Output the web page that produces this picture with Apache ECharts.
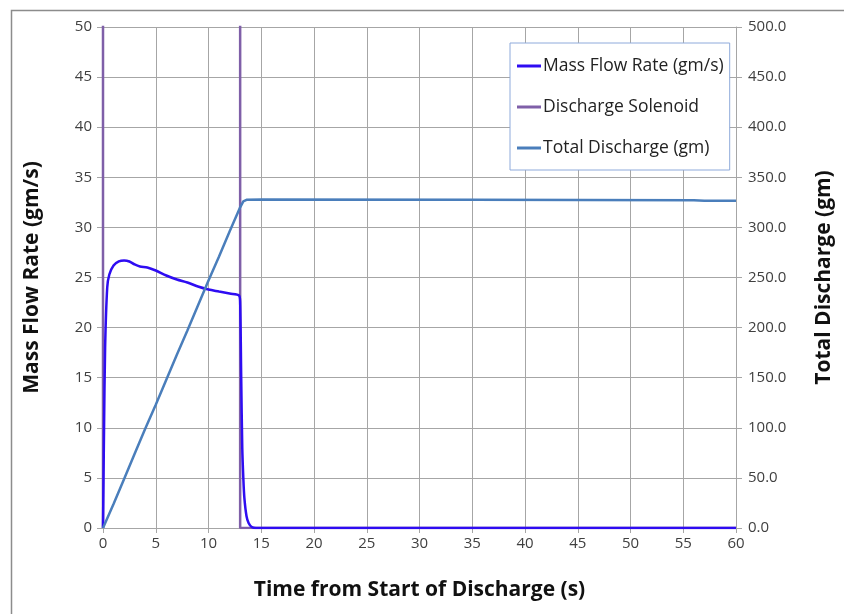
<!DOCTYPE html>
<html>
<head>
    <meta charset="utf-8">
    <title>Discharge</title>
    <script src="https://cdn.jsdelivr.net/npm/echarts@6/dist/echarts.min.js"></script>
    <style>
        body{ margin: 0; background: #fff; }
        #chart{ width: 844px; height: 614px; }
    </style>
</head>
<body>
<div id="chart"></div>
<script>
    // mass flow rate (gm/s)
    var flowTime = [0, 0.05, 0.1, 0.2, 0.4, 0.6, 1, 1.5, 2, 2.5, 3, 3.5, 4.2, 5, 6, 7, 8, 9, 10, 11, 12, 12.9, 13.0, 13.1, 13.2, 13.3, 13.4, 13.6, 13.8, 14.1, 14.5, 60];
    var flowRate = [0, 5, 10, 18, 24, 25.3, 26.2, 26.6, 26.7, 26.6, 26.3, 26.1, 26.0, 25.7, 25.2, 24.8, 24.5, 24.1, 23.8, 23.6, 23.4, 23.2, 22.5, 15, 8, 5, 3, 1.2, 0.5, 0.1, 0, 0];

    // discharge solenoid state (runs off the top of the axis)
    var solenoidTime = [0, 0, 13, 13, 60];
    var solenoidValue = [0, 60, 60, 0, 0];

    // total discharge (gm), right axis
    var totalTime = [0, 1, 2, 3, 4, 5, 6, 7, 8, 9, 10, 11, 12, 13, 13.3, 13.6, 15, 35, 56, 57, 60];
    var totalValue = [0, 24, 49, 74, 99, 123, 148, 173, 197, 222, 247, 271, 296, 320, 326, 327.5, 327.8, 327.5, 327, 326.5, 326.5];

    function zip(xs, ys){
        var out = [];
        for(var i=0;i<xs.length;i++){
            out.push([xs[i], ys[i]]);
        }
        return out;
    }

    var font = 'Open Sans';
    var gridColor = '#a6a6a6';
    var labelColor = '#404040';

    var option = {
        animation: false,
        textStyle: { fontFamily: font },
        grid: { left: 103, right: 108, top: 27, bottom: 86 },
        legend: {
            orient: 'vertical',
            left: 510,
            top: 43,
            itemWidth: 24,
            itemHeight: 3,
            itemGap: 17,
            padding: [11, 6, 10, 7],
            backgroundColor: '#fff',
            borderColor: '#8eaadb',
            borderWidth: 1,
            textStyle: { fontSize: 17.5, lineHeight: 24, color: '#222', fontFamily: font, padding: [0, 0, 0, -3] },
            data: [
                { name: 'Mass Flow Rate (gm/s)', icon: 'rect' },
                { name: 'Discharge Solenoid', icon: 'rect' },
                { name: 'Total Discharge (gm)', icon: 'rect' }
            ]
        },
        xAxis: {
            type: 'value',
            min: 0, max: 60, interval: 5,
            name: 'Time from Start of Discharge (s)',
            nameLocation: 'middle',
            nameGap: 52,
            nameTextStyle: { fontSize: 21, fontWeight: 'bold', color: '#111', fontFamily: font },
            axisLine: { show: true, lineStyle: { color: gridColor } },
            axisTick: { show: true, length: 5, lineStyle: { color: gridColor } },
            axisLabel: { fontSize: 15, color: labelColor, margin: 8 },
            splitLine: { show: true, lineStyle: { color: gridColor, width: 1 } }
        },
        yAxis: [{
            type: 'value',
            min: 0, max: 50, interval: 5,
            name: 'Mass Flow Rate (gm/s)',
            nameLocation: 'middle',
            nameGap: 60,
            nameTextStyle: { fontSize: 21, fontWeight: 'bold', color: '#111', fontFamily: font },
            axisLine: { show: true, lineStyle: { color: gridColor } },
            axisTick: { show: true, length: 6, lineStyle: { color: gridColor } },
            axisLabel: { fontSize: 15, color: labelColor, margin: 11 },
            splitLine: { show: true, lineStyle: { color: gridColor, width: 1 } }
        }, {
            type: 'value',
            min: 0, max: 500, interval: 50,
            position: 'right',
            name: 'Total Discharge (gm)',
            nameLocation: 'middle',
            nameGap: 78,
            nameRotate: 90,
            nameTextStyle: { fontSize: 21, fontWeight: 'bold', color: '#111', fontFamily: font },
            axisLine: { show: true, lineStyle: { color: gridColor } },
            axisTick: { show: true, length: 6, lineStyle: { color: gridColor } },
            axisLabel: {
                fontSize: 15, color: labelColor, margin: 12,
                formatter: function(v){ return v.toFixed(1); }
            },
            splitLine: { show: false }
        }],
        series: [{
            name: 'Mass Flow Rate (gm/s)',
            type: 'line',
            yAxisIndex: 0,
            symbol: 'none',
            smooth: 0.3,
            z: 4,
            color: '#2e0cf2',
            lineStyle: { width: 2.5, color: '#2e0cf2' },
            data: zip(flowTime, flowRate)
        }, {
            name: 'Discharge Solenoid',
            type: 'line',
            yAxisIndex: 0,
            symbol: 'none',
            clip: true,
            z: 3,
            color: '#7f5fa8',
            lineStyle: { width: 2.5, color: '#7f5fa8' },
            data: zip(solenoidTime, solenoidValue)
        }, {
            name: 'Total Discharge (gm)',
            type: 'line',
            yAxisIndex: 1,
            symbol: 'none',
            z: 5,
            color: '#4a7ebb',
            lineStyle: { width: 2.5, color: '#4a7ebb' },
            data: zip(totalTime, totalValue)
        }],
        graphic: [{
            type: 'rect',
            left: 9, top: 8,
            shape: { width: 860, height: 640 },
            style: { fill: 'none', stroke: '#8c8c8c', lineWidth: 1.5 },
            silent: true
        }]
    };

    var myChart = echarts.init(document.getElementById('chart'));
    myChart.setOption(option);
</script>
</body>
</html>
